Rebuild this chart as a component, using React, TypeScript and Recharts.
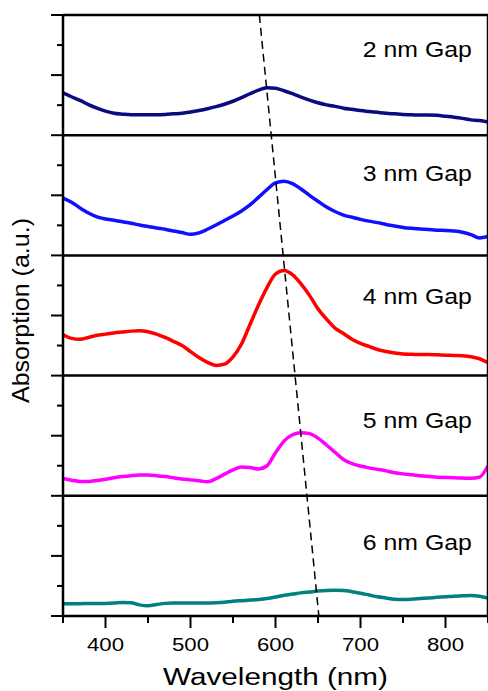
import React from 'react';
import { LineChart, Line, XAxis, YAxis, ReferenceLine, ReferenceDot } from 'recharts';

// wavelength grid (nm)
const wavelengths = [
  350, 360, 370, 380, 390, 400, 410, 420, 430, 440, 450, 460, 470, 480, 490, 500, 510, 520, 530, 540,
  550, 560, 570, 580, 590, 600, 610, 620, 630, 640, 650, 660, 670, 680, 690, 700, 710, 720, 730, 740,
  750, 760, 770, 780, 790, 800, 810, 820, 830, 840, 850,
];

// absorption in panel units (each panel spans 0..4)
const gap2 = [
  1.41, 1.28, 1.16, 1.02, 0.9, 0.8, 0.73, 0.7, 0.68, 0.68, 0.68, 0.68, 0.69, 0.71, 0.73, 0.77, 0.82, 0.88, 0.95, 1.03,
  1.13, 1.25, 1.38, 1.5, 1.58, 1.56, 1.48, 1.38, 1.27, 1.17, 1.08, 1.01, 0.96, 0.9, 0.86, 0.82, 0.79, 0.76, 0.73, 0.71,
  0.69, 0.68, 0.67, 0.67, 0.66, 0.63, 0.6, 0.56, 0.51, 0.49, 0.44,
];
const gap3 = [
  1.91, 1.77, 1.58, 1.41, 1.28, 1.21, 1.17, 1.12, 1.07, 1.01, 0.96, 0.91, 0.87, 0.81, 0.76, 0.7, 0.75, 0.87, 1.01, 1.16,
  1.31, 1.48, 1.68, 1.93, 2.19, 2.41, 2.47, 2.39, 2.21, 2.0, 1.8, 1.61, 1.46, 1.34, 1.27, 1.2, 1.14, 1.09, 1.03, 0.98,
  0.93, 0.9, 0.88, 0.86, 0.84, 0.83, 0.81, 0.77, 0.69, 0.58, 0.63,
];
const gap4 = [
  1.36, 1.24, 1.21, 1.27, 1.34, 1.38, 1.42, 1.45, 1.48, 1.49, 1.46, 1.38, 1.27, 1.14, 1.0, 0.8, 0.6, 0.44, 0.34, 0.38,
  0.62, 1.05, 1.7, 2.35, 2.93, 3.38, 3.5, 3.36, 3.05, 2.67, 2.22, 1.88, 1.58, 1.4, 1.21, 1.07, 0.97, 0.87, 0.8, 0.75,
  0.72, 0.71, 0.7, 0.7, 0.69, 0.68, 0.67, 0.66, 0.63, 0.56, 0.43,
];
const gap5 = [
  0.58, 0.52, 0.48, 0.48, 0.51, 0.55, 0.6, 0.64, 0.67, 0.69, 0.69, 0.67, 0.64, 0.6, 0.56, 0.53, 0.5, 0.47, 0.57, 0.72,
  0.86, 0.96, 0.94, 0.89, 1.0, 1.43, 1.82, 2.03, 2.1, 2.07, 1.92, 1.69, 1.45, 1.21, 1.07, 0.99, 0.93, 0.88, 0.83, 0.77,
  0.73, 0.7, 0.67, 0.64, 0.62, 0.61, 0.6, 0.59, 0.58, 0.62, 1.0,
];
const gap6 = [
  0.41, 0.41, 0.41, 0.42, 0.42, 0.42, 0.43, 0.45, 0.44, 0.37, 0.34, 0.38, 0.42, 0.43, 0.43, 0.43, 0.43, 0.43, 0.44, 0.46,
  0.49, 0.51, 0.53, 0.55, 0.58, 0.63, 0.69, 0.73, 0.77, 0.8, 0.83, 0.85, 0.86, 0.85, 0.81, 0.76, 0.7, 0.64, 0.6, 0.56,
  0.55, 0.56, 0.58, 0.6, 0.62, 0.64, 0.66, 0.67, 0.68, 0.66, 0.6,
];

const xTicks = [350, 400, 450, 500, 550, 600, 650, 700, 750, 800, 850];
const xLabelTicks = [400, 500, 600, 700, 800];
const yTicks = [0, 1, 2, 3, 4, 5, 6, 7, 8, 9, 10, 11, 12, 13, 14, 15, 16, 17, 18, 19, 20];
const panelNames = ['2 nm Gap', '3 nm Gap', '4 nm Gap', '5 nm Gap', '6 nm Gap'];
const panelColors = ['#0b0b7f', '#1010ff', '#ff0000', '#ff00ff', '#008080'];
const panelOffsets = [16, 12, 8, 4, 0];
const separators = [4, 8, 12, 16, 20];
// dashed guide through the peaks (nm at top of the stack, nm at bottom)
const guideTop = { x: 581, y: 20 };
const guideBottom = { x: 651, y: 0 };

const series = [gap2, gap3, gap4, gap5, gap6];
const keys = ['g2', 'g3', 'g4', 'g5', 'g6'];

const data = wavelengths.map((w, i) => {
  const row: Record<string, number> = { w };
  series.forEach((s, k) => {
    row[keys[k]] = s[i] + panelOffsets[k];
  });
  return row;
});

const FONT = '"Liberation Sans", Arial, sans-serif';
const labelLift = [2.59, 2.48, 2.37, 2.26, 2.2];

const XTick = (props: any) => {
  const { x, y, payload } = props;
  const major = xLabelTicks.includes(payload.value);
  return (
    <g>
      <line x1={x} y1={y} x2={x} y2={y + (major ? 12 : 7)} stroke="#000" strokeWidth={2} />
      {major && (
        <text x={x} y={y + 35} textAnchor="middle" fontSize={19} fontFamily={FONT} fill="#000"
          textLength={37} lengthAdjust="spacingAndGlyphs">
          {payload.value}
        </text>
      )}
    </g>
  );
};

const YTick = (props: any) => {
  const { x, y, payload } = props;
  const major = payload.value % 2 === 0;
  return <line x1={x} y1={y} x2={x - (major ? 12 : 6)} y2={y} stroke="#000" strokeWidth={2} />;
};

const App = () => (
  <div style={{ position: 'absolute', left: 0, top: 0, background: '#fff' }}>
    <LineChart width={488} height={691} data={data} margin={{ top: 15, right: 0, bottom: 45, left: 0 }}>
      <XAxis
        dataKey="w"
        type="number"
        domain={[350, 850]}
        ticks={xTicks}
        interval={0}
        allowDataOverflow
        height={30}
        tickSize={0}
        tickMargin={0}
        tick={XTick}
        tickLine={false}
        axisLine={{ stroke: '#000', strokeWidth: 2.5 }}
        label={{
          content: () => (
            <text x={275.5} y={685} textAnchor="middle" fontSize={23.5} fontFamily={FONT} fill="#000"
              textLength={225} lengthAdjust="spacingAndGlyphs">
              Wavelength (nm)
            </text>
          ),
        }}
      />
      <YAxis
        type="number"
        domain={[0, 20]}
        ticks={yTicks}
        interval={0}
        allowDataOverflow
        width={63}
        tickSize={0}
        tickMargin={0}
        tick={YTick}
        tickLine={false}
        axisLine={{ stroke: '#000', strokeWidth: 2.5 }}
        label={{
          content: () => (
            <text x={29} y={310.5} transform="rotate(-90 29 310.5)" textAnchor="middle" fontSize={24}
              fontFamily={FONT} fill="#000" textLength={185} lengthAdjust="spacingAndGlyphs">
              Absorption (a.u.)
            </text>
          ),
        }}
      />
      {keys.map((k, i) => (
        <Line
          key={k}
          dataKey={k}
          type="monotone"
          stroke={panelColors[i]}
          strokeWidth={3.5}
          dot={false}
          activeDot={false}
          isAnimationActive={false}
        />
      ))}
      {separators.map((s) => (
        <ReferenceLine key={`sep-${s}`} y={s} stroke="#000" strokeWidth={2.5} />
      ))}
      <ReferenceLine x={850} stroke="#000" strokeWidth={2.5} />
      <ReferenceLine
        segment={[guideTop, guideBottom]}
        stroke="#000"
        strokeWidth={1.5}
        strokeDasharray="8 5"
      />
      {panelNames.map((name, i) => (
        <ReferenceDot
          key={name}
          x={831}
          y={panelOffsets[i] + labelLift[i]}
          r={0}
          fill="none"
          stroke="none"
          label={{
            content: (p: any) => (
              <text x={p.viewBox.x} y={p.viewBox.y} textAnchor="end" fontSize={22} fontFamily={FONT}
                fill="#000" textLength={109} lengthAdjust="spacingAndGlyphs">
                {name}
              </text>
            ),
          }}
        />
      ))}
    </LineChart>
  </div>
);

export default App;
